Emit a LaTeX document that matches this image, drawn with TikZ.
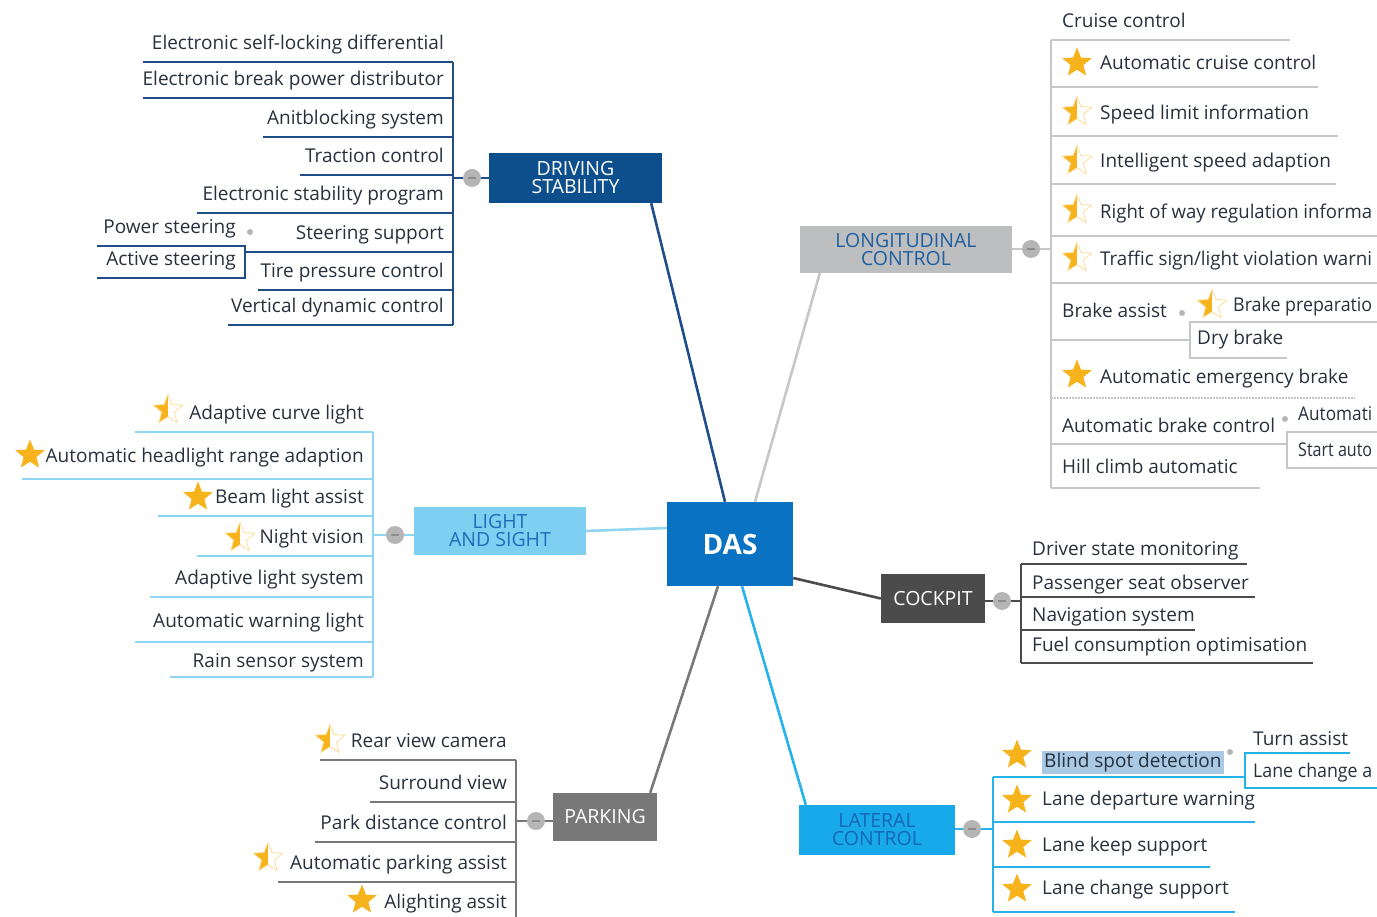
\documentclass[tikz,border=0pt]{standalone}
\usepackage{fontspec}
\setmainfont{Open Sans}
\usetikzlibrary{shapes.geometric}
\definecolor{dasblue}{HTML}{0A72C3}
\definecolor{dsblue}{HTML}{0C4F8C}
\definecolor{dsline}{HTML}{1F4E88}
\definecolor{lcgray}{HTML}{BDBEC0}
\definecolor{lcline}{HTML}{C6C7C9}
\definecolor{lctext}{HTML}{1F5FA0}
\definecolor{lsblue}{HTML}{7FCFF3}
\definecolor{lsline}{HTML}{8FD6F2}
\definecolor{lstext}{HTML}{1D6FB8}
\definecolor{ckgray}{HTML}{4B4B4B}
\definecolor{pkgray}{HTML}{787878}
\definecolor{ltblue}{HTML}{17A9EA}
\definecolor{ltline}{HTML}{26B2EA}
\definecolor{lttext}{HTML}{1468B5}
\definecolor{knobgray}{HTML}{B5B5B5}
\definecolor{knobdash}{HTML}{8C8C8C}
\definecolor{itemtext}{HTML}{27303C}
\definecolor{starorange}{HTML}{F7B31B}
\definecolor{hilite}{HTML}{A9C9E4}
\newcommand\rtext[2]{\makebox[#1pt][r]{#2}}
\newcommand\ltext[2]{\makebox[#1pt][l]{#2}}
\newcommand\fitw[2]{\resizebox{#1pt}{\height}{#2}}
\newcommand\starpad[1][38pt]{\hspace*{#1}}
\tikzset{
  box/.style={inner sep=0pt, align=center, font=\fontsize{19.5}{18}\selectfont},
  knob/.style={circle, fill=knobgray, minimum size=18pt, inner sep=0pt,
    path picture={\draw[knobdash, line width=1.6pt] ([xshift=-4pt]path picture bounding box.center) -- ([xshift=4pt]path picture bounding box.center);}},
  subdot/.style={circle, fill=knobgray, minimum size=6pt, inner sep=0pt},
  item/.style={inner xsep=9pt, inner ysep=9pt, text height=10pt, text depth=3pt, text=itemtext, font=\fontsize{19}{21}\selectfont},
  litem/.style={item, anchor=south east},
  ritem/.style={item, inner xsep=11pt, anchor=south west},
  starshape/.style={star, star points=5, star point ratio=2.3, minimum size=31pt, inner sep=0pt},
  fullstar/.style={starshape, fill=starorange},
  halfstar/.style={starshape, draw=starorange!45, line width=0.8pt,
    path picture={\fill[starorange] (path picture bounding box.south west) rectangle (path picture bounding box.north);}},
  link/.style={line width=2.6pt},
  bar/.style={line width=2pt}
}
\begin{document}
\begin{tikzpicture}[x=1pt, y=-1pt]
\useasboundingbox (0,0) rectangle (1377,917);
\clip (0,0) rectangle (1377,917);
\node[box, fill=dasblue, text=white, minimum width=126pt, minimum height=84pt, font=\fontsize{28}{30}\selectfont\bfseries] (das) at (730,544) {DAS};

% driving stability
\node[box, fill=dsblue, text=white, minimum width=173pt, minimum height=50pt] (ds) at (575.5,178) {DRIVING\\STABILITY};
\node[knob] (dsk) at (472,178) {};
\node[litem] (ds1) at (453,62) {\rtext{292}{Electronic self-locking differential}};
\node[litem] (ds2) at (453,98) {\rtext{292}{Electronic break power distributor}};
\node[litem] (ds3) at (453,137) {\rtext{172}{Anitblocking system}};
\node[litem] (ds4) at (453,175) {\rtext{135}{Traction control}};
\node[litem] (ds5) at (453,213) {\rtext{238}{Electronic stability program}};
\node[litem] (ds6) at (453,252) {\rtext{190}{Steering support}};
\node[litem] (ds7) at (453,290) {\rtext{177}{Tire pressure control}};
\node[litem] (ds8) at (453,325) {\rtext{207}{Vertical dynamic control}};
\node[litem] (ss1) at (245,246) {\rtext{130}{Power steering}};
\node[litem] (ss2) at (245,278) {\rtext{130}{Active steering}};
\node[subdot] (ssd) at (250,232) {};
\foreach \n in {1,...,8} \draw[dsline, bar] (ds\n.south west) -- (ds\n.south east);
\draw[dsline, bar] (ss1.south west) -- (ss1.south east) -- (ss2.south east) -- (ss2.south west);
\draw[dsline, bar] (ds1.south east) -- (ds8.south east) (dsk) -- (dsk -| ds1.south east);
\draw[dsline, bar] (dsk) -- (ds);
\draw[dsline, link] ([xshift=-5pt]das.north) -- ([xshift=-11pt]ds.south east);

% longitudinal control
\node[box, fill=lcgray, text=lctext, minimum width=212pt, minimum height=47pt] (lc) at (906,249.5) {LONGITUDINAL\\CONTROL};
\node[knob] (lck) at (1031,249) {};
\node[ritem] (lc0) at (1051,40) {\ltext{217}{Cruise control}};
\node[ritem, inner ysep=14pt] (lc1) at (1051,87) {\ltext{245}{\starpad Automatic cruise control}};
\node[ritem, inner ysep=13pt] (lc2) at (1051,136) {\ltext{265}{\starpad Speed limit information}};
\node[ritem, inner ysep=13pt] (lc3) at (1051,184) {\ltext{263}{\starpad Intelligent speed adaption}};
\node[ritem, inner ysep=14pt] (lc4) at (1051,236) {\ltext{318}{\starpad\fitw{272}{Right of way regulation informa}}};
\node[ritem, inner ysep=14pt] (lc5) at (1051,283) {\ltext{318}{\starpad\fitw{272}{Traffic sign/light violation warni}}};
\node[ritem, inner ysep=19pt] (lc6) at (1051,340) {\ltext{117}{Brake assist}};
\node[ritem, inner ysep=11pt] (lc7) at (1051,398) {\ltext{282}{\starpad Automatic emergency brake}};
\node[ritem, inner ysep=8pt] (lc8) at (1051,444) {\ltext{214}{Automatic brake control}};
\node[ritem, inner ysep=11pt] (lc9) at (1051,488) {\ltext{187}{Hill climb automatic}};
\node[ritem, inner ysep=7pt] (ba1) at (1190,322) {\ltext{168}{\starpad[32pt]\fitw{139}{Brake preparatio}}};
\node[ritem, inner xsep=7pt, inner ysep=10pt] (ba2) at (1190,358) {\ltext{83}{Dry brake}};
\node[subdot] (bad) at (1182,313) {};
\node[ritem, inner ysep=8pt] (ab1) at (1287,432) {\ltext{68}{\fitw{74}{Automati}}};
\node[ritem, inner ysep=8pt] (ab2) at (1287,468) {\ltext{68}{\fitw{74}{Start auto}}};
\node[subdot] (abd) at (1285,419) {};
\node[fullstar] (lc1s) at (1077,63) {};
\node[halfstar] (lc2s) at (1077,112) {};
\node[halfstar] (lc3s) at (1077,161) {};
\node[halfstar] (lc4s) at (1077,210) {};
\node[halfstar] (lc5s) at (1077,258) {};
\node[halfstar] (ba1s) at (1212,305) {};
\node[fullstar] (lc7s) at (1077,375) {};
\foreach \n in {0,1,2,3,4,5,6,8,9} \draw[lcline, bar] (lc\n.south west) -- (lc\n.south east);
\draw[lcline, bar, densely dotted] (lc7.south west) -- (lc7.south east);
\draw[lcline, bar] (ba1.south east) -- (ba1.south west) -- (ba2.south west) -- (ba2.south east);
\draw[lcline, bar] (ab1.south east) -- (ab1.south west) -- (ab2.south west) -- (ab2.south east);
\draw[lcline, bar] (lc0.south west) -- (lc9.south west) (lck) -- (lck -| lc0.south west);
\draw[lcline, bar] (lck) -- (lck -| lc.east);
\draw[lcline, link] ([xshift=25pt]das.north) -- ([xshift=20pt]lc.south west);

% light and sight
\node[box, fill=lsblue, text=lstext, minimum width=172pt, minimum height=48pt] (ls) at (500,531) {LIGHT\\AND SIGHT};
\node[knob] (lsk) at (395,535) {};
\node[litem] (ls1) at (373,432) {\rtext{220}{Adaptive curve light}};
\node[litem, inner ysep=13pt] (ls2) at (373,479) {\rtext{333}{Automatic headlight range adaption}};
\node[litem] (ls3) at (373,516) {\rtext{197}{Beam light assist}};
\node[litem] (ls4) at (373,556) {\rtext{158}{Night vision}};
\node[litem] (ls5) at (373,597) {\rtext{205}{Adaptive light system}};
\node[litem, inner ysep=11pt] (ls6) at (373,642) {\rtext{220}{Automatic warning light}};
\node[litem, inner ysep=6pt] (ls7) at (373,677) {\rtext{185}{Rain sensor system}};
\node[halfstar] (ls1s) at (168,410) {};
\node[fullstar] (ls2s) at (30,455) {};
\node[fullstar] (ls3s) at (198,497) {};
\node[halfstar] (ls4s) at (240,538) {};
\foreach \n in {1,...,7} \draw[lsline, bar] (ls\n.south west) -- (ls\n.south east);
\draw[lsline, bar] (ls1.south east) -- (ls7.south east) (lsk) -- (lsk -| ls1.south east);
\draw[lsline, bar] (lsk) -- (lsk -| ls.west);
\draw[lsline, link] ([yshift=16pt]das.west) -- (ls.east);

% cockpit
\node[box, fill=ckgray, text=white, minimum width=104pt, minimum height=49pt] (ck) at (933,598.5) {COCKPIT};
\node[knob] (ckk) at (1002,601) {};
\node[ritem, inner ysep=5pt] (ck1) at (1021,564) {\ltext{204}{Driver state monitoring}};
\node[ritem, inner ysep=4pt] (ck2) at (1021,597) {\ltext{212}{Passenger seat observer}};
\node[ritem, inner ysep=5pt] (ck3) at (1021,630) {\ltext{152}{Navigation system}};
\node[ritem, inner ysep=8pt] (ck4) at (1021,663) {\ltext{270}{Fuel consumption optimisation}};
\foreach \n in {1,...,4} \draw[ckgray, bar] (ck\n.south west) -- (ck\n.south east);
\draw[ckgray, bar] (ck1.south west) -- (ck4.south west) (ckk) -- (ckk -| ck1.south west);
\draw[ckgray, bar] (ckk) -- (ckk -| ck.east);
\draw[ckgray, link] ([yshift=-34pt]das.east) -- (ck.west);

% parking
\node[box, fill=pkgray, text=white, minimum width=104pt, minimum height=48pt] (pk) at (605,817) {PARKING};
\node[knob] (pkk) at (536,821) {};
\node[litem] (pk1) at (516,760) {\rtext{178}{Rear view camera}};
\node[litem] (pk2) at (516,802) {\rtext{128}{Surround view}};
\node[litem] (pk3) at (516,842) {\rtext{183}{Park distance control}};
\node[litem] (pk4) at (516,882) {\rtext{220}{Automatic parking assist}};
\node[litem] (pk5) at (516,921) {\rtext{158}{Alighting assit}};
\node[halfstar] (pk1s) at (330,740) {};
\node[halfstar] (pk4s) at (268,858) {};
\node[fullstar] (pk5s) at (362,900) {};
\foreach \n in {1,...,5} \draw[pkgray, bar] (pk\n.south west) -- (pk\n.south east);
\draw[pkgray, bar] (pk1.south east) -- (pk5.south east) (pkk) -- (pkk -| pk1.south east);
\draw[pkgray, bar] (pkk) -- (pkk -| pk.west);
\draw[pkgray, link] ([xshift=-12pt]das.south) -- ([xshift=-7pt]pk.north east);

% lateral control
\node[box, fill=ltblue, text=lttext, minimum width=156pt, minimum height=50pt] (lt) at (877,830) {LATERAL\\CONTROL};
\node[knob] (ltk) at (972,829) {};
\node[ritem, inner ysep=6pt] (lt1) at (993,777) {\ltext{230}{\starpad{\setlength\fboxsep{2pt}\colorbox{hilite}{Blind spot detection}}}};
\node[ritem, inner ysep=13pt] (lt2) at (993,822) {\ltext{240}{\starpad Lane departure warning}};
\node[ritem, inner ysep=12pt] (lt3) at (993,867) {\ltext{195}{\starpad Lane keep support}};
\node[ritem, inner ysep=14pt] (lt4) at (993,912) {\ltext{220}{\starpad Lane change support}};
\node[ritem, inner xsep=8pt, inner ysep=4pt] (bs1) at (1245,753) {\ltext{89}{Turn assist}};
\node[ritem, inner xsep=8pt, inner ysep=7pt] (bs2) at (1245,788) {\ltext{116}{\fitw{119}{Lane change a}}};
\node[subdot] (bsd) at (1230,752) {};
\node[fullstar] (lt1s) at (1017,755) {};
\node[fullstar] (lt2s) at (1017,800) {};
\node[fullstar] (lt3s) at (1017,845) {};
\node[fullstar] (lt4s) at (1017,889) {};
\foreach \n in {1,...,4} \draw[ltline, bar] (lt\n.south west) -- (lt\n.south east);
\draw[ltline, bar] (bs1.south east) -- (bs1.south west) -- (bs2.south west) -- (bs2.south east);
\draw[ltline, bar] (lt1.south west) -- (lt4.south west) (ltk) -- (ltk -| lt1.south west);
\draw[ltline, bar] (ltk) -- (ltk -| lt.east);
\draw[ltline, link] ([xshift=12pt]das.south) -- ([xshift=7pt]lt.north west);
\end{tikzpicture}
\end{document}
